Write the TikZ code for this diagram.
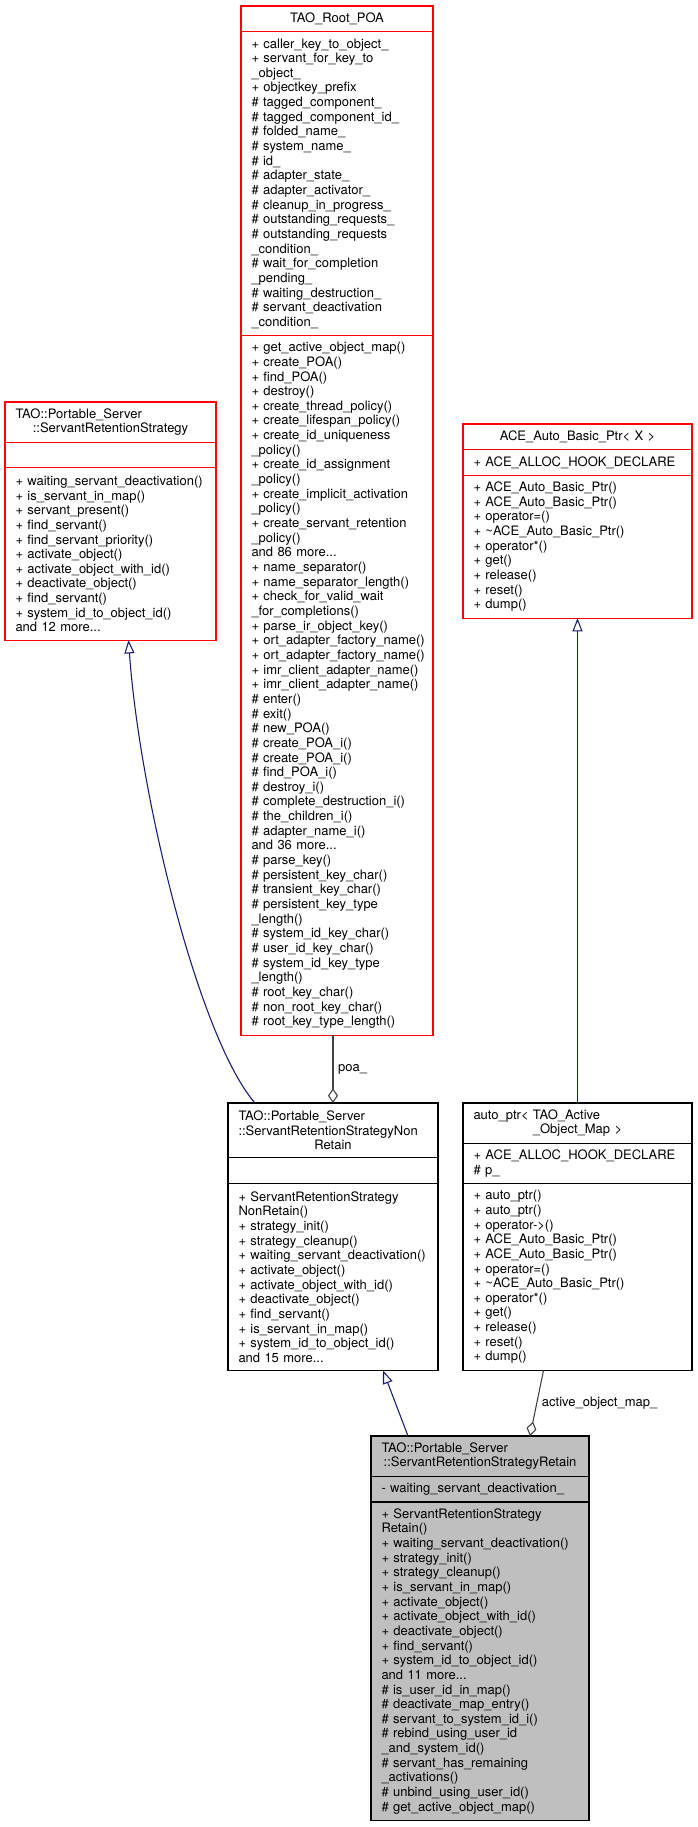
\documentclass[tikz,border=0pt]{standalone}
\usepackage{fontspec}
\setmainfont{TeX Gyre Heros}
\usetikzlibrary{positioning,calc,arrows.meta}

\definecolor{umlred}{HTML}{FF0000}
\definecolor{umlgray}{HTML}{BFBFBF}
\definecolor{inheritblue}{HTML}{191970}
\definecolor{aggrgray}{HTML}{404040}
\newcommand{\umlfont}{\fontsize{9.75pt}{10.99pt}\selectfont}

\begin{document}
\begin{tikzpicture}[x=0.75pt,y=-0.75pt,
  part/.style={draw, line width=0.8pt, outer sep=0pt, inner xsep=7.875pt, inner ysep=0pt,
    font=\umlfont, align=left,
    execute at begin node={\rightskip=0pt plus 1fil minus 12pt}},
  redpart/.style={part, draw=umlred},
  blackpart/.style={part, draw=black},
  wd/.style={minimum width=#1*0.75pt, text width=#1*0.75pt-15.75pt},
  rows/.style={minimum height=#1*10.9875pt+8.25pt},
  inherit/.style={draw=inheritblue, line width=0.8pt, -{Triangle[open,length=10pt,width=7.5pt]}},
  aggr/.style={draw=aggrgray, line width=0.8pt, -{Diamond[open,length=11pt,width=7.5pt]}},
  role/.style={font=\umlfont, inner sep=3.5pt}]

  \useasboundingbox (0,0) rectangle (697,1827);

  % TAO_Root_POA
  \node[redpart, wd=192, rows=1, anchor=north west] (rootT) at (241,6) {\makebox[\linewidth]{TAO\_Root\_POA}};
  \node[redpart, wd=192, rows=20, below=0pt of rootT] (rootA) {+ caller\_key\_to\_object\_\\
+ servant\_for\_key\_to\\
\_object\_\\
+ objectkey\_prefix\\
\# tagged\_component\_\\
\# tagged\_component\_id\_\\
\# folded\_name\_\\
\# system\_name\_\\
\# id\_\\
\# adapter\_state\_\\
\# adapter\_activator\_\\
\# cleanup\_in\_progress\_\\
\# outstanding\_requests\_\\
\# outstanding\_requests\\
\_condition\_\\
\# wait\_for\_completion\\
\_pending\_\\
\# waiting\_destruction\_\\
\# servant\_deactivation\\
\_condition\_};
  \node[redpart, wd=192, rows=47, below=0pt of rootA] (rootO) {+ get\_active\_object\_map()\\
+ create\_POA()\\
+ find\_POA()\\
+ destroy()\\
+ create\_thread\_policy()\\
+ create\_lifespan\_policy()\\
+ create\_id\_uniqueness\\
\_policy()\\
+ create\_id\_assignment\\
\_policy()\\
+ create\_implicit\_activation\\
\_policy()\\
+ create\_servant\_retention\\
\_policy()\\
and 86 more...\\
+ name\_separator()\\
+ name\_separator\_length()\\
+ check\_for\_valid\_wait\\
\_for\_completions()\\
+ parse\_ir\_object\_key()\\
+ ort\_adapter\_factory\_name()\\
+ ort\_adapter\_factory\_name()\\
+ imr\_client\_adapter\_name()\\
+ imr\_client\_adapter\_name()\\
\# enter()\\
\# exit()\\
\# new\_POA()\\
\# create\_POA\_i()\\
\# create\_POA\_i()\\
\# find\_POA\_i()\\
\# destroy\_i()\\
\# complete\_destruction\_i()\\
\# the\_children\_i()\\
\# adapter\_name\_i()\\
and 36 more...\\
\# parse\_key()\\
\# persistent\_key\_char()\\
\# transient\_key\_char()\\
\# persistent\_key\_type\\
\_length()\\
\# system\_id\_key\_char()\\
\# user\_id\_key\_char()\\
\# system\_id\_key\_type\\
\_length()\\
\# root\_key\_char()\\
\# non\_root\_key\_char()\\
\# root\_key\_type\_length()};

  % TAO::Portable_Server::ServantRetentionStrategy
  \node[redpart, wd=211, rows=2, anchor=north west] (srsT) at (5,402) {TAO::Portable\_Server\\
\makebox[\linewidth]{::ServantRetentionStrategy}};
  \node[redpart, wd=211, rows=1, below=0pt of srsT] (srsA) {};
  \node[redpart, wd=211, rows=11, below=0pt of srsA] (srsO) {+ waiting\_servant\_deactivation()\\
+ is\_servant\_in\_map()\\
+ servant\_present()\\
+ find\_servant()\\
+ find\_servant\_priority()\\
+ activate\_object()\\
+ activate\_object\_with\_id()\\
+ deactivate\_object()\\
+ find\_servant()\\
+ system\_id\_to\_object\_id()\\
and 12 more...};

  % ACE_Auto_Basic_Ptr< X >
  \node[redpart, wd=229, rows=1, anchor=north west] (aceT) at (463,424) {\makebox[\linewidth]{ACE\_Auto\_Basic\_Ptr< X >}};
  \node[redpart, wd=229, rows=1, below=0pt of aceT] (aceA) {+ ACE\_ALLOC\_HOOK\_DECLARE};
  \node[redpart, wd=229, rows=9, below=0pt of aceA] (aceO) {+ ACE\_Auto\_Basic\_Ptr()\\
+ ACE\_Auto\_Basic\_Ptr()\\
+ operator=()\\
+ \textasciitilde ACE\_Auto\_Basic\_Ptr()\\
+ operator*()\\
+ get()\\
+ release()\\
+ reset()\\
+ dump()};

  % TAO::Portable_Server::ServantRetentionStrategyNonRetain
  \node[blackpart, wd=210, rows=3, anchor=north west] (nrT) at (228,1103) {TAO::Portable\_Server\\
::ServantRetentionStrategyNon\\
\makebox[\linewidth]{Retain}};
  \node[blackpart, wd=210, rows=1, below=0pt of nrT] (nrA) {};
  \node[blackpart, wd=210, rows=12, below=0pt of nrA] (nrO) {+ ServantRetentionStrategy\\
NonRetain()\\
+ strategy\_init()\\
+ strategy\_cleanup()\\
+ waiting\_servant\_deactivation()\\
+ activate\_object()\\
+ activate\_object\_with\_id()\\
+ deactivate\_object()\\
+ find\_servant()\\
+ is\_servant\_in\_map()\\
+ system\_id\_to\_object\_id()\\
and 15 more...};

  % auto_ptr< TAO_Active_Object_Map >
  \node[blackpart, wd=229, rows=2, anchor=north west] (apT) at (463,1103) {auto\_ptr< TAO\_Active\\
\makebox[\linewidth]{\_Object\_Map >}};
  \node[blackpart, wd=229, rows=2, below=0pt of apT] (apA) {+ ACE\_ALLOC\_HOOK\_DECLARE\\
\# p\_};
  \node[blackpart, wd=229, rows=12, below=0pt of apA] (apO) {+ auto\_ptr()\\
+ auto\_ptr()\\
+ operator->()\\
+ ACE\_Auto\_Basic\_Ptr()\\
+ ACE\_Auto\_Basic\_Ptr()\\
+ operator=()\\
+ \textasciitilde ACE\_Auto\_Basic\_Ptr()\\
+ operator*()\\
+ get()\\
+ release()\\
+ reset()\\
+ dump()};

  % TAO::Portable_Server::ServantRetentionStrategyRetain
  \node[blackpart, fill=umlgray, wd=218, rows=2, anchor=north west] (rtT) at (371,1436) {TAO::Portable\_Server\\
\makebox[\linewidth]{::ServantRetentionStrategyRetain}};
  \node[blackpart, fill=umlgray, wd=218, rows=1, below=0pt of rtT] (rtA) {- waiting\_servant\_deactivation\_};
  \node[blackpart, fill=umlgray, wd=218, rows=21, below=0pt of rtA] (rtO) {+ ServantRetentionStrategy\\
Retain()\\
+ waiting\_servant\_deactivation()\\
+ strategy\_init()\\
+ strategy\_cleanup()\\
+ is\_servant\_in\_map()\\
+ activate\_object()\\
+ activate\_object\_with\_id()\\
+ deactivate\_object()\\
+ find\_servant()\\
+ system\_id\_to\_object\_id()\\
and 11 more...\\
\# is\_user\_id\_in\_map()\\
\# deactivate\_map\_entry()\\
\# servant\_to\_system\_id\_i()\\
\# rebind\_using\_user\_id\\
\_and\_system\_id()\\
\# servant\_has\_remaining\\
\_activations()\\
\# unbind\_using\_user\_id()\\
\# get\_active\_object\_map()};

  % edges
  \draw[inherit] ($(nrT.north west)+(27,0)$) .. controls (200,1040) and (140,800) .. ($(srsO.south)+(18,0)$);
  \draw[inherit] (apT.north) -- (aceO.south);
  \draw[inherit] ($(rtT.north)+(-72,0)$) -- ($(nrO.south)+(50,0)$);
  \draw[aggr] (rootO.south -| nrT.north) -- (nrT.north) node[role, midway, right] {poa\_};
  \draw[aggr] ($(apO.south)+(-34,0)$) -- ($(rtT.north)+(50,0)$) node[role, midway, right] {active\_object\_map\_};
\end{tikzpicture}
\end{document}
